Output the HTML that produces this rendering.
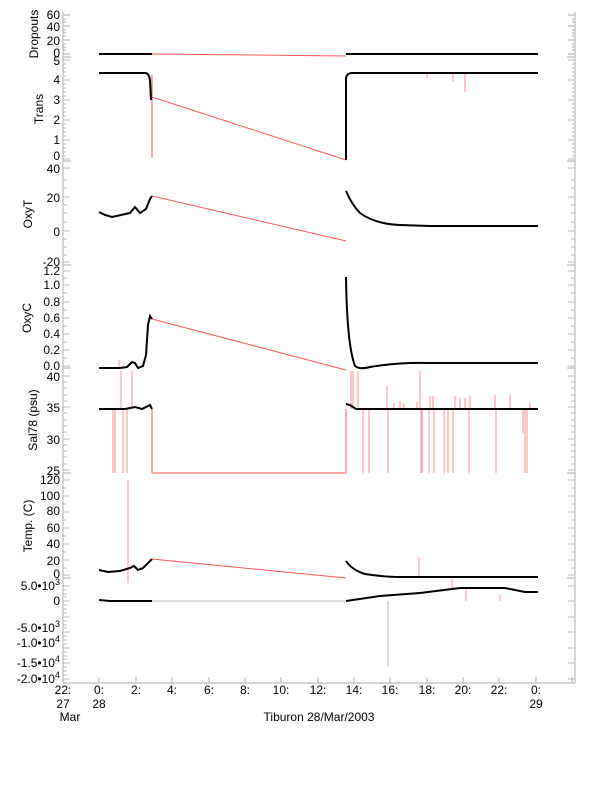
<!DOCTYPE html>
<html><head><meta charset="utf-8"><style>
html,body{margin:0;padding:0;background:#fff}
svg{display:block}
text{font-family:"Liberation Sans",sans-serif;font-size:12px;fill:#000}
</style></head><body>
<svg width="612" height="785" viewBox="0 0 612 785">
<g stroke="#bbb" stroke-width="1.2" fill="none">
<line x1="63" y1="12" x2="63" y2="683"/>
<line x1="575" y1="12" x2="575" y2="683"/>
<line x1="63" y1="683" x2="575" y2="683"/>
<path d="M63 57h8M63 161h8M63 265h8M63 368h8M63 473h8M63 578h8M575 57h-8M575 161h-8M575 265h-8M575 368h-8M575 473h-8M575 578h-8"/>
<path d="M63 15h7M63 26h7M63 40h7M63 54h7M575 15h-7M575 26h-7M575 40h-7M575 54h-7"/>
<path d="M63 19h3M63 22h3M63 30h3M63 33h3M63 36h3M63 44h3M63 47h3M63 50h3M575 19h-3M575 22h-3M575 30h-3M575 33h-3M575 36h-3M575 44h-3M575 47h-3M575 50h-3"/>
<path d="M63 683v-6M99 683v-6M136 683v-6M172 683v-6M209 683v-6M245 683v-6M281 683v-6M318 683v-6M354 683v-6M390 683v-6M427 683v-6M463 683v-6M499 683v-6M536 683v-6M572 683v-6"/>
</g>
<g stroke="#bbb" stroke-width="1">
<path d="M63 60h7M63 80h7M63 100h7M63 120h7M63 140h7M63 159h7M575 60h-7M575 80h-7M575 100h-7M575 120h-7M575 140h-7M575 159h-7"/>
<path d="M63 64h3M63 68h3M63 72h3M63 76h3M63 84h3M63 88h3M63 92h3M63 96h3M63 104h3M63 108h3M63 112h3M63 116h3M63 124h3M63 128h3M63 132h3M63 136h3M63 144h3M63 148h3M63 152h3M63 156h3M575 64h-3M575 68h-3M575 72h-3M575 76h-3M575 84h-3M575 88h-3M575 92h-3M575 96h-3M575 104h-3M575 108h-3M575 112h-3M575 116h-3M575 124h-3M575 128h-3M575 132h-3M575 136h-3M575 144h-3M575 148h-3M575 152h-3M575 156h-3"/>
<path d="M63 168h7M63 197h7M63 231h7M63 262h7M575 168h-7M575 197h-7M575 231h-7M575 262h-7M63 180h4M63 188h4M63 205h4M63 213h4M63 222h4M63 239h4M63 247h4M63 255h4M575 180h-4M575 188h-4M575 205h-4M575 213h-4M575 222h-4M575 239h-4M575 247h-4M575 255h-4"/>
<path d="M63 271h7M63 285h7M63 302h7M63 318h7M63 334h7M63 350h7M63 366h7M575 271h-7M575 285h-7M575 302h-7M575 318h-7M575 334h-7M575 350h-7M575 366h-7M63 278h4M63 293h4M63 310h4M63 326h4M63 342h4M63 358h4M575 278h-4M575 293h-4M575 310h-4M575 326h-4M575 342h-4M575 358h-4"/>
<path d="M63 376h7M63 407h7M63 439h7M63 470h7M575 376h-7M575 407h-7M575 439h-7M575 470h-7M63 382h4M63 388h4M63 395h4M63 401h4M63 413h4M63 420h4M63 426h4M63 432h4M63 445h4M63 451h4M63 457h4M63 464h4M575 382h-4M575 388h-4M575 395h-4M575 401h-4M575 413h-4M575 420h-4M575 426h-4M575 432h-4M575 445h-4M575 451h-4M575 457h-4M575 464h-4"/>
<path d="M63 480h7M63 496h7M63 512h7M63 528h7M63 544h7M63 560h7M63 575h7M575 480h-7M575 496h-7M575 512h-7M575 528h-7M575 544h-7M575 560h-7M575 575h-7M63 488h4M63 504h4M63 520h4M63 536h4M63 552h4M63 568h4M575 488h-4M575 504h-4M575 520h-4M575 536h-4M575 552h-4M575 568h-4"/>
<path d="M63 586h7M63 601h7M63 617h7M63 632h7M63 648h7M63 663h7M63 679h7M575 586h-7M575 601h-7M575 617h-7M575 632h-7M575 648h-7M575 663h-7M575 679h-7M63 590h4M63 594h4M63 597h4M63 605h4M63 609h4M63 613h4M63 621h4M63 625h4M63 628h4M63 636h4M63 640h4M63 644h4M63 652h4M63 656h4M63 659h4M63 667h4M63 671h4M63 675h4"/>
</g>
<g text-anchor="end">
<text x="60" y="19">60</text><text x="60" y="31">40</text><text x="60" y="45">20</text><text x="60" y="57">0</text>
<text x="60" y="65">5</text><text x="60" y="84">4</text><text x="60" y="104">3</text><text x="60" y="124">2</text><text x="60" y="144">1</text><text x="60" y="160">0</text>
<text x="60" y="173">40</text><text x="60" y="202">20</text><text x="60" y="236">0</text><text x="60" y="266">-20</text>
<text x="60" y="275">1.2</text><text x="60" y="289">1.0</text><text x="60" y="306">0.8</text><text x="60" y="322">0.6</text><text x="60" y="338">0.4</text><text x="60" y="354">0.2</text><text x="60" y="370">0.0</text>
<text x="60" y="381">40</text><text x="60" y="412">35</text><text x="60" y="444">30</text><text x="60" y="475">25</text>
<text x="60" y="484">120</text><text x="60" y="500">100</text><text x="60" y="515">80</text><text x="60" y="532">60</text><text x="60" y="548">40</text><text x="60" y="565">20</text><text x="60" y="578">0</text>
<text x="60" y="590">5.0•10<tspan dy="-5" font-size="9">3</tspan></text>
<text x="60" y="605">0</text>
<text x="60" y="632">-5.0•10<tspan dy="-5" font-size="9">3</tspan></text>
<text x="60" y="647">-1.0•10<tspan dy="-5" font-size="9">4</tspan></text>
<text x="60" y="667">-1.5•10<tspan dy="-5" font-size="9">4</tspan></text>
<text x="60" y="683">-2.0•10<tspan dy="-5" font-size="9">4</tspan></text>
</g>
<g text-anchor="middle">
<text transform="translate(38,34) rotate(-90)">Dropouts</text>
<text transform="translate(43,109) rotate(-90)">Trans</text>
<text transform="translate(32,214) rotate(-90)">OxyT</text>
<text transform="translate(31,318) rotate(-90)">OxyC</text>
<text transform="translate(37,420) rotate(-90)">Sal78 (psu)</text>
<text transform="translate(32,526) rotate(-90)">Temp. (C)</text>
<text x="63" y="694">22:</text><text x="63" y="708">27</text><text x="70" y="721">Mar</text>
<text x="99" y="694">0:</text><text x="99" y="708">28</text>
<text x="136" y="694">2:</text><text x="172" y="694">4:</text><text x="209" y="694">6:</text><text x="245" y="694">8:</text><text x="281" y="694">10:</text><text x="318" y="694">12:</text><text x="354" y="694">14:</text><text x="390" y="694">16:</text><text x="427" y="694">18:</text><text x="463" y="694">20:</text><text x="499" y="694">22:</text><text x="536" y="694">0:</text><text x="536" y="708">29</text>
<text x="319" y="721">Tiburon 28/Mar/2003</text>
</g>
<g stroke="#f55" stroke-width="1" fill="none">
<path d="M152 54L346 56"/>
<path d="M152 97L346 160M152 75V158"/>
<path d="M152 196L346 241"/>
<path d="M152 319L346 370"/>
<path d="M152 409V473H346V409"/>
<path d="M152 559L346 578"/>
<path d="M346 157V80"/>
</g>
<g stroke="#f77" stroke-width="1" opacity="0.8">
<path d="M113 409V473M115 409V473M121 409V371M123 409V473M127 409V473M132 409V371M119 360V368M128 480V578M128 570V583"/>
<path d="M351 409V371M353 409V371M358 409V371M363 409V473M369 409V473M387 409V386M388 409V473M420 409V371M421 409V473M422 409V473M429 409V473M433 409V396M434 409V473M444 409V473M448 409V473M453 409V473M469 409V473M496 409V473M495 409V395M510 409V395M523 409V433M525 409V473M527 409V473M530 409V403M419 557V578M452 579V588M466 601V589M500 601V595M394 409V403M400 409V401M404 409V403M417 409V402M430 409V396M455 409V396M460 409V398M465 409V398M470 409V396"/>
<path d="M453 73V82M465 73V92M427 73V78"/>
</g>
<g stroke="#bbb" stroke-width="1"><path d="M388 601V666M152 601H346"/></g>
<g stroke="#000" stroke-width="2" fill="none">
<path d="M99 54H152M346 54H538"/>
<path d="M99 73H145Q149 73 150 80L151 100M346 160V78Q347 73 352 73H538"/>
<path d="M99 212L105 215L112 217L121 215L130 213L135 207L140 213L146 209L150 199L152 196"/>
<path d="M346 191Q352 205 360 213Q375 224 400 225L430 226H538"/>
<path d="M99 368H120L127 367L132 362L135 363L138 368L143 366L146 355L148 325L150 316L152 319"/>
<path d="M346 277Q347 345 355 366Q360 370 370 367Q400 362 430 363H538"/>
<path d="M99 409H125L135 407L142 409L150 405L152 409"/>
<path d="M346 404L350 405L356 409H538"/>
<path d="M99 570L108 572L120 571L130 568L134 566L138 570L143 568L150 561L152 559"/>
<path d="M346 561Q352 570 365 574Q385 577 400 577H538"/>
<path d="M99 600L110 601L130 601L152 601"/>
<path d="M346 601L380 596L420 593L460 588L505 588L525 592L538 592"/>
</g>
</svg>
</body></html>
